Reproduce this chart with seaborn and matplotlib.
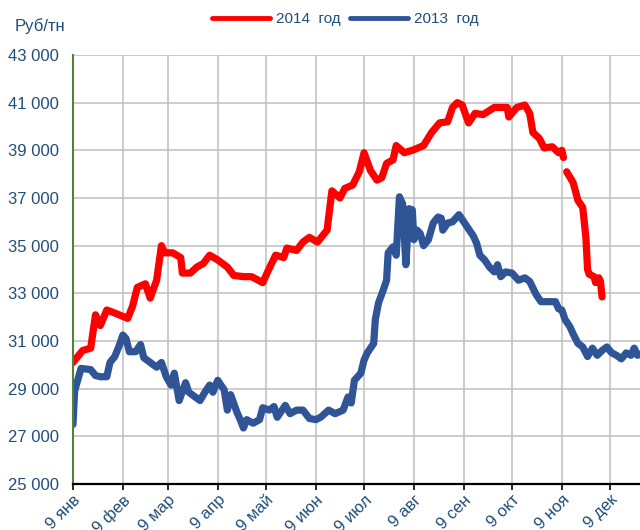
import pandas as pd
import matplotlib
matplotlib.use("Agg")
import matplotlib.pyplot as plt
import matplotlib.transforms as mtransforms
from matplotlib.lines import Line2D
import seaborn as sns

# day of year (both years drawn on a 2014 calendar) and price, rub/t
days_2014 = [9, 15, 20, 23, 26, 30, 34, 43, 46, 49, 54, 57, 61, 64, 66, 71, 76, 77, 82, 86,
             90, 94, 99, 105, 109, 115, 120, 127, 130, 135, 140, 142, 148, 152, 156, 161, 167, 170, 175, 178,
             183, 187, 190, 194, 198, 201, 204, 208, 210, 215, 220, 227, 232, 237, 242, 245, 248, 251, 255, 259,
             264, 271, 279, 280, 285, 290, 293, 295, 299, 302, 307, 311, 313, 314, 315, 316, 320, 323, 326, 328,
             329, 330, 333, 334, 336, 337, 338]
price_2014 = [30100, 30600, 30700, 32100, 31650, 32300, 32200, 31950, 32450, 33250, 33400, 32800, 33550, 35000, 34700, 34700, 34500, 33850, 33850, 34100,
              34250, 34600, 34400, 34100, 33750, 33700, 33700, 33450, 33900, 34600, 34500, 34900, 34800, 35150, 35350, 35150, 35650, 37300, 37000, 37400,
              37550, 38100, 38900, 38150, 37750, 37850, 38450, 38600, 39200, 38900, 39000, 39200, 39750, 40150, 40200, 40800, 41000, 40900, 40150, 40550,
              40500, 40800, 40800, 40400, 40800, 40900, 40550, 39750, 39500, 39100, 39150, 38900, 39000, 38700, None, 38100, 37650, 36900, 36600, 35300,
              34000, 33800, 33700, 33450, 33650, 33500, 32850]

days_2013 = [9, 10, 14, 20, 23, 26, 30, 32, 35, 38, 40, 42, 44, 48, 51, 53, 57, 61, 64, 67,
             70, 72, 75, 79, 81, 85, 88, 91, 94, 96, 99, 103, 105, 107, 111, 113, 115, 117, 121, 125,
             127, 131, 134, 136, 141, 144, 148, 152, 156, 160, 163, 168, 172, 177, 180, 182, 184, 188, 190, 192,
             196, 197, 199, 202, 204, 205, 208, 210, 212, 214, 216, 218, 220, 221, 223, 225, 227, 230, 233, 236,
             238, 239, 242, 245, 249, 252, 255, 258, 260, 262, 265, 268, 271, 273, 275, 278, 282, 286, 290, 293,
             297, 300, 305, 309, 311, 313, 315, 318, 320, 323, 326, 329, 332, 335, 338, 341, 344, 347, 350, 353,
             356, 358, 360, 362]
price_2013 = [27500, 28900, 29850, 29800, 29550, 29500, 29500, 30100, 30350, 30850, 31250, 31100, 30550, 30550, 30850, 30300, 30100, 29900, 30100, 29500,
              29150, 29650, 28500, 29250, 28850, 28650, 28500, 28850, 29150, 28850, 29350, 28950, 28100, 28750, 28000, 27700, 27350, 27700, 27550, 27700,
              28200, 28100, 28250, 27800, 28300, 27950, 28100, 28100, 27750, 27700, 27800, 28100, 27950, 28100, 28650, 28400, 29350, 29650, 30200, 30500,
              30900, 31900, 32600, 33150, 33550, 34700, 34950, 34600, 37050, 36750, 34200, 36550, 36500, 35250, 35650, 35500, 35000, 35250, 35950, 36200,
              36150, 35650, 35950, 36000, 36300, 36000, 35700, 35400, 35100, 34600, 34400, 34100, 33900, 34200, 33700, 33900, 33850, 33550, 33650, 33500,
              32950, 32650, 32650, 32650, 32350, 32300, 31900, 31600, 31300, 30900, 30750, 30350, 30700, 30400, 30600, 30750, 30500, 30400, 30250, 30500,
              30400, 30700, 30400, 30450]

series_names = ["2014  год", "2013  год"]
month_labels = ["9 янв", "9 фев", "9 мар", "9 апр", "9 май", "9 июн",
                "9 июл", "9 авг", "9 сен", "9 окт", "9 ноя", "9 дек"]
y_ticks = list(range(25000, 43001, 2000))

RED = "#FF0000"
BLUE = "#2F5597"
TEXT = "#1F4E79"

# long table, a missing value breaks the line into segments
frames = []
for name, days, prices in [(series_names[0], days_2014, price_2014),
                           (series_names[1], days_2013, price_2013)]:
    d = pd.DataFrame({"day": days, "price": prices})
    d["price"] = pd.to_numeric(d["price"])
    d["unit"] = name + "_" + d["price"].isna().cumsum().astype(str)
    d["series"] = name
    frames.append(d.dropna())
df = pd.concat(frames, ignore_index=True)
base = pd.Timestamp("2014-01-01")
df["date"] = base + pd.to_timedelta(df["day"] - 1, unit="D")

sns.set_theme(style="white")
plt.rcParams["font.family"] = ["Liberation Sans", "DejaVu Sans"]

fig = plt.figure(figsize=(6.4, 5.3), dpi=100)
ax = fig.add_axes([73 / 640, 1 - 484 / 530, 1 - 73 / 640, (484 - 55) / 530])

sns.lineplot(data=df, x="date", y="price", hue="series", units="unit", estimator=None,
             hue_order=series_names, palette={series_names[0]: RED, series_names[1]: BLUE},
             sort=False, lw=5.2, solid_capstyle="round", solid_joinstyle="round",
             legend=False, ax=ax)

# axes
ax.set_ylim(25000, 43000)
ax.set_yticks(y_ticks)
ax.set_yticklabels([f"{v:,}".replace(",", " ") for v in y_ticks])
tick_dates = [pd.Timestamp(2014, m, 9) for m in range(1, 13)]
ax.set_xlim(pd.Timestamp(2014, 1, 9), base + pd.Timedelta(days=360.6))
ax.set_xticks(tick_dates)
ax.set_xticklabels(month_labels, rotation=45, ha="right", va="top", rotation_mode="anchor")
offset = mtransforms.ScaledTranslation(8 / 100, -4 / 100, fig.dpi_scale_trans)
for lbl in ax.get_xticklabels():
    lbl.set_transform(lbl.get_transform() + offset)

ax.set_xlabel("")
ax.set_ylabel("")
ax.grid(True, color="#BFBFBF", lw=1.1)
ax.set_axisbelow(True)
for s in ["top", "right"]:
    ax.spines[s].set_visible(False)
ax.spines["left"].set_color("#548235")
ax.spines["left"].set_linewidth(1.5)
ax.spines["bottom"].set_color("black")
ax.spines["bottom"].set_linewidth(1.6)
ax.tick_params(axis="y", length=0, pad=10, labelsize=12, labelcolor=TEXT)
ax.tick_params(axis="x", length=4, width=1.2, color="black", direction="out",
               pad=2, labelsize=12, labelcolor=TEXT, bottom=True)

fig.text(15 / 640, 1 - 26 / 530, "Руб/тн", fontsize=12, color=TEXT, va="center", ha="left")

handles = [Line2D([], [], color=RED, lw=3.5, solid_capstyle="round"),
           Line2D([], [], color=BLUE, lw=3.5, solid_capstyle="round")]
fig.legend(handles, series_names, loc="center", bbox_to_anchor=(345 / 640, 1 - 19 / 530),
           ncol=2, frameon=False, handlelength=3.8, handletextpad=0.4, columnspacing=0.6,
           fontsize=11, labelcolor=TEXT)

fig.savefig("out.png", dpi=100)
